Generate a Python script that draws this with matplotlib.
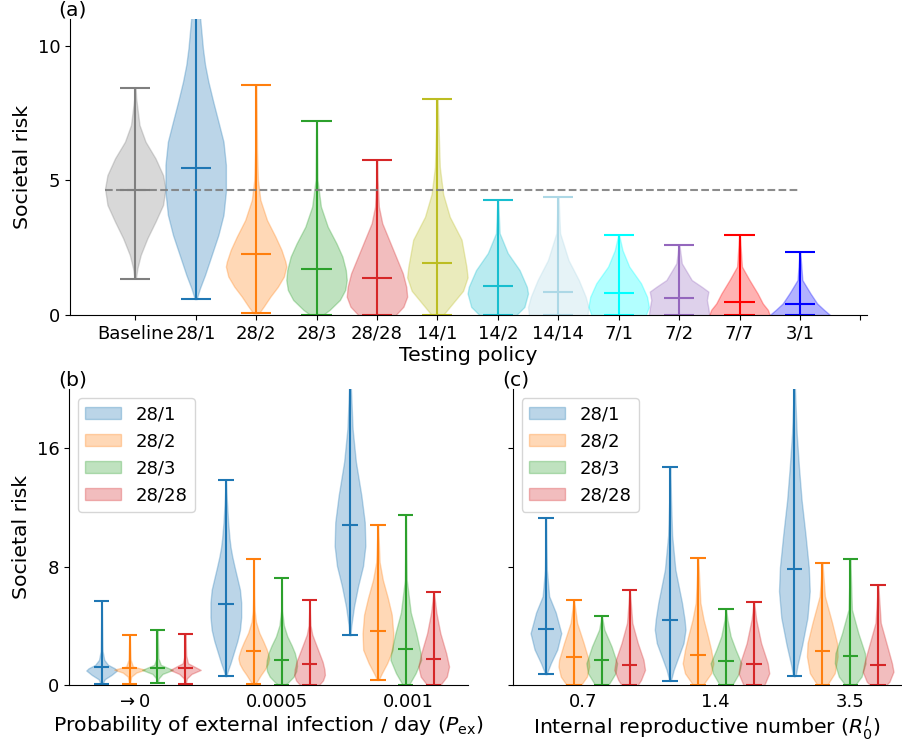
import numpy as np
import matplotlib
matplotlib.use('Agg')
import matplotlib.pyplot as plt
from matplotlib.patches import Patch

# ---- panel (a): testing policies ----
POLICIES = ['Baseline', '28/1', '28/2', '28/3', '28/28', '14/1', '14/2',
            '14/14', '7/1', '7/2', '7/7', '3/1']
A_COLORS = ['tab:gray', 'tab:blue', 'tab:orange', 'tab:green', 'tab:red',
            'tab:olive', 'tab:cyan', 'lightblue', 'cyan', 'tab:purple',
            'red', 'blue']
A_MED = [4.64, 5.48, 2.27, 1.70, 1.39, 1.92, 1.09, 0.84, 0.81, 0.62, 0.50, 0.40]
# violin outline: (risk, relative width), first/last point = min/max
A_SHAPE = [
    [(1.35, .02), (1.73, .07), (2.23, .18), (2.85, .4), (3.47, .67), (4.09, .92),
     (4.7, 1.0), (5.2, .92), (5.82, .67), (6.44, .34), (7.06, .14), (8.05, .03),
     (8.45, .01)],
    [(0.59, .03), (0.99, .14), (1.49, .31), (2.23, .53), (2.97, .75), (3.72, .92),
     (4.58, 1.0), (5.58, 1.0), (6.44, .92), (7.19, .75), (7.93, .58), (8.67, .42),
     (9.3, .31), (9.9, .24), (11.0, .15), (12.6, .06), (13.88, .01)],
    [(0.06, .09), (0.31, .25), (0.68, .47), (1.05, .72), (1.43, .92), (1.8, 1.0),
     (1.98, .97), (2.42, .84), (2.91, .64), (3.53, .36), (4.28, .14), (5.02, .06),
     (6.1, .03), (8.54, .01)],
    [(0.0, .2), (0.19, .42), (0.56, .75), (0.93, .92), (1.3, .97), (1.67, .94),
     (2.17, .83), (2.66, .64), (3.28, .36), (4.03, .14), (5.02, .03), (7.2, .01)],
    [(0.0, .6), (0.31, .85), (0.68, .97), (1.05, .94), (1.55, .83), (2.17, .61),
     (2.79, .39), (3.41, .17), (4.03, .06), (5.02, .02), (5.75, .01)],
    [(0.0, .19), (0.45, .52), (0.9, .85), (1.4, 1.0), (1.8, .96), (2.8, .8),
     (3.65, .41), (4.5, .19), (5.5, .08), (8.03, .01)],
    [(0.0, .61), (0.3, .88), (0.8, 1.0), (1.05, .96), (1.67, .72), (2.3, .33),
     (3.04, .06), (4.29, .01)],
    [(0.0, .94), (0.3, .97), (0.68, .88), (1.3, .66), (2.04, .33), (3.04, .06),
     (4.4, .01)],
    [(0.0, .9), (0.3, 1.0), (0.68, .94), (1.18, .74), (1.8, .35), (2.4, .13),
     (2.99, .01)],
    [(0.0, 1.0), (0.25, .97), (0.56, .92), (0.87, .97), (1.05, .75), (1.3, .42),
     (1.92, .09), (2.61, .01)],
    [(0.0, 1.0), (0.19, .94), (0.43, .77), (0.8, .6), (1.3, .33), (1.8, .08),
     (2.99, .01)],
    [(0.0, 1.0), (0.19, .8), (0.43, .57), (0.8, .35), (1.3, .08), (2.34, .01)],
]
BASELINE_RISK = 4.64

# ---- panels (b), (c): four 28-day policies ----
SUB_POLICIES = ['28/1', '28/2', '28/3', '28/28']
SUB_COLORS = ['tab:blue', 'tab:orange', 'tab:green', 'tab:red']
PEX_LABELS = [r'$\rightarrow 0$', '0.0005', '0.001']
R0_LABELS = ['0.7', '1.4', '3.5']

# P_ex = 0.0005 is the same run as panel (a)
B_MED = [[1.25, 1.13, 1.13, 1.13],
         A_MED[1:5],
         [10.84, 3.63, 2.45, 1.75]]
B_SHAPE = [
    [[(0.07, .06), (0.39, .2), (0.68, .64), (0.98, 1.0), (1.13, .85), (1.36, .42),
      (1.7, .17), (2.3, .06), (3.5, .04), (5.67, .01)],
     [(0.07, .02), (0.57, .11), (0.84, .44), (1.04, 1.0), (1.25, .22), (1.7, .07),
      (3.36, .01)],
     [(0.16, .03), (0.45, .08), (0.75, .33), (1.02, 1.0), (1.36, .22), (1.8, .06),
      (3.74, .01)],
     [(0.07, .02), (0.45, .1), (0.75, .4), (1.02, 1.0), (1.47, .17), (2.0, .05),
      (3.45, .01)]],
    A_SHAPE[1:5],
    [[(3.36, .03), (3.97, .08), (5.3, .26), (6.7, .53), (8.05, .85), (9.4, 1.0),
      (11.0, .96), (12.8, .74), (15.1, .38), (17.3, .17), (20.0, .06), (21.5, .01)],
     [(0.34, .05), (0.8, .26), (1.47, .6), (2.38, .96), (3.5, 1.0), (4.76, .9),
      (5.9, .64), (7.1, .32), (8.3, .11), (10.84, .01)],
     [(0.0, .2), (0.8, .64), (1.7, 1.0), (2.15, .96), (3.5, .68), (4.9, .32),
      (7.1, .06), (11.5, .01)],
     [(0.0, .43), (0.57, .85), (1.25, 1.0), (2.15, .81), (3.5, .43), (4.9, .17),
      (6.3, .01)]],
]

C_MED = [[3.79, 1.88, 1.68, 1.34],
         [4.42, 2.04, 1.59, 1.41],
         [7.82, 2.31, 1.97, 1.34]]
C_SHAPE = [
    [[(0.73, .04), (1.47, .32), (2.4, .74), (3.5, 1.0), (4.9, .64), (6.0, .21),
      (7.8, .06), (11.3, .01)],
     [(0.0, .47), (0.57, .85), (1.25, 1.0), (1.7, .96), (2.83, .64), (4.2, .21),
      (5.76, .01)],
     [(0.0, .43), (0.8, .9), (1.47, 1.0), (2.6, .64), (3.74, .17), (4.67, .01)],
     [(0.0, .53), (0.34, .74), (1.02, 1.0), (1.7, .9), (2.83, .53), (4.2, .17),
      (6.4, .01)]],
    [[(0.27, .04), (0.34, .06), (1.02, .23), (1.93, .55), (2.83, .87), (3.74, 1.0),
      (4.42, .94), (5.56, .77), (6.7, .55), (7.8, .34), (10.1, .13), (12.4, .06),
      (14.7, .01)],
     [(0.0, .32), (0.79, .85), (1.47, 1.0), (2.38, .85), (3.29, .64), (4.42, .36),
      (5.56, .15), (8.6, .01)],
     [(0.0, .4), (0.79, .83), (1.47, .98), (2.38, .62), (3.29, .3), (4.42, .09),
      (5.12, .01)],
     [(0.0, .68), (0.79, 1.0), (1.47, .9), (2.83, .47), (4.42, .15), (5.6, .01)]],
    [[(0.59, .03), (0.68, .09), (1.36, .21), (2.72, .51), (4.54, .85), (6.35, 1.0),
      (7.94, .94), (10.2, .72), (12.5, .47), (14.7, .3), (17.0, .15), (19.95, .04),
      (21.5, .01)],
     [(0.0, .32), (0.8, .81), (1.93, 1.0), (2.83, .96), (4.2, .64), (6.0, .17),
      (8.25, .01)],
     [(0.0, .32), (0.57, .74), (1.47, 1.0), (2.15, .96), (3.5, .53), (5.1, .11),
      (8.5, .01)],
     [(0.0, .53), (0.23, .74), (0.9, 1.0), (1.47, .9), (2.6, .6), (4.2, .17),
      (6.78, .01)]],
]

TICK_FS = 13
LABEL_FS = 14.7


def draw_violin(ax, pos, shape, med, color, width):
    ys = np.array([p[0] for p in shape])
    ws = np.array([p[1] for p in shape])
    st = dict(coords=ys, vals=ws, mean=med, median=med, min=ys[0], max=ys[-1])
    parts = ax.violin([st], positions=[pos], widths=width, showmeans=False,
                      showextrema=True, showmedians=True)
    for b in parts['bodies']:
        b.set_facecolor(color)
        b.set_edgecolor(color)
        b.set_alpha(0.3)
    for k in ('cbars', 'cmins', 'cmaxes', 'cmedians'):
        parts[k].set_color(color)
        parts[k].set_linewidth(1.5)


def style(ax):
    for s in ('top', 'right'):
        ax.spines[s].set_visible(False)
    ax.tick_params(labelsize=TICK_FS)


def draw_groups(ax, meds, shapes, xticks, xlabels):
    grp_pos = [0.0, 4.45, 8.9]
    for g, x0 in enumerate(grp_pos):
        for i in range(4):
            draw_violin(ax, x0 + i, shapes[g][i], meds[g][i], SUB_COLORS[i], 1.1)
    ax.set_ylim(0, 20)
    ax.set_yticks([0, 8, 16])
    ax.set_xticks(xticks)
    ax.set_xticklabels(xlabels)
    ax.tick_params(axis='x', length=0, pad=6)
    handles = [Patch(facecolor=c, edgecolor=c, alpha=0.3) for c in SUB_COLORS]
    ax.legend(handles, SUB_POLICIES, loc='upper left', fontsize=TICK_FS,
              bbox_to_anchor=(0.0, 1.0))


fig = plt.figure(figsize=(9.02, 7.4), dpi=100)

# (a)
a1 = fig.add_axes([0.0776, 0.5743, 0.8836, 0.4])
for i, (shape, med, c) in enumerate(zip(A_SHAPE, A_MED, A_COLORS)):
    draw_violin(a1, i, shape, med, c, 1.0)
a1.hlines(BASELINE_RISK, -0.5, 11, colors='gray', linestyles='--', lw=1.5, alpha=0.9)
a1.set_xlim(-1.08, 12.11)
a1.set_ylim(0, 11)
a1.set_yticks([0, 5, 10])
a1.set_xticks(range(13))
a1.set_xticklabels(POLICIES + [''])
a1.set_xlabel('Testing policy', fontsize=LABEL_FS, labelpad=2)
a1.set_ylabel('Societal risk', fontsize=LABEL_FS)
style(a1)

# (b)
a2 = fig.add_axes([0.0765, 0.0743, 0.4424, 0.4])
style(a2)
draw_groups(a2, B_MED, B_SHAPE, [1.12, 6.27, 10.98], PEX_LABELS)
a2.set_xlim(-1.17, 13.13)
a2.set_xlabel(r'Probability of external infection / day ($P_{\mathrm{ex}}$)',
              fontsize=LABEL_FS, labelpad=2)
a2.set_ylabel('Societal risk', fontsize=LABEL_FS)

# (c)
a3 = fig.add_axes([0.5684, 0.0743, 0.4305, 0.4])
style(a3)
draw_groups(a3, C_MED, C_SHAPE, [1.33, 6.06, 10.9], R0_LABELS)
a3.set_xlim(-1.19, 12.72)
a3.set_yticklabels([])
a3.set_xlabel(r'Internal reproductive number ($R_0^I$)', fontsize=LABEL_FS,
              labelpad=2)

fig.text(0.065, 0.987, '(a)', fontsize=LABEL_FS, va='center')
fig.text(0.065, 0.487, '(b)', fontsize=LABEL_FS, va='center')
fig.text(0.557, 0.487, '(c)', fontsize=LABEL_FS, va='center')

fig.savefig('out.png', dpi=100)
